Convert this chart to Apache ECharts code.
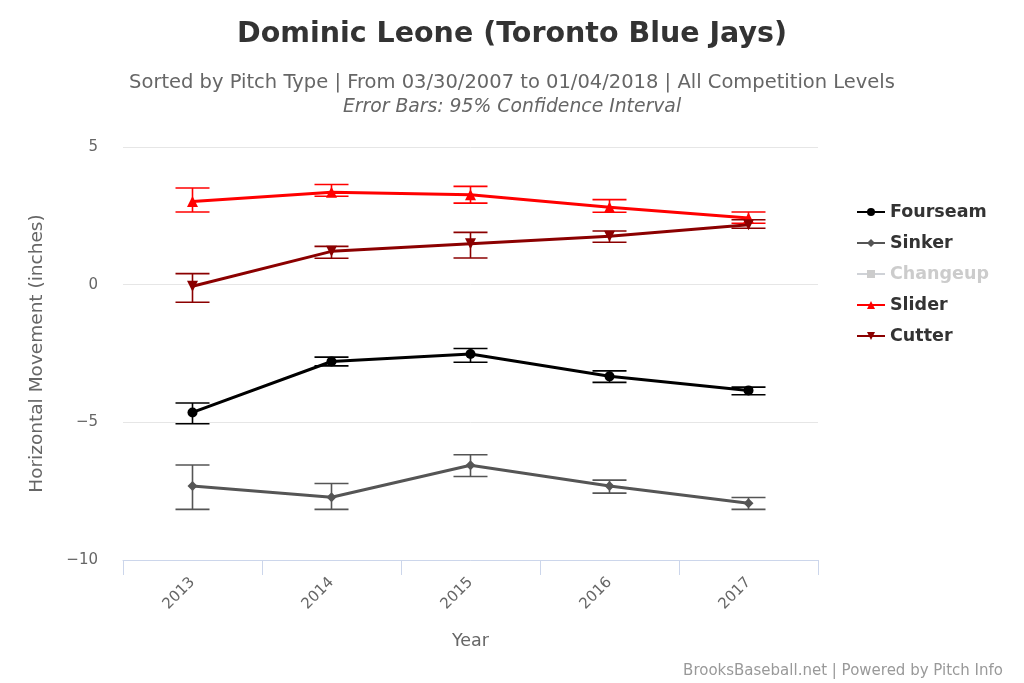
<!DOCTYPE html>
<html><head><meta charset="utf-8">
<script src="https://cdn.jsdelivr.net/npm/echarts@6/dist/echarts.min.js"></script>
<style>html,body{margin:0;padding:0;background:#fff}#c{width:1024px;height:683px}</style>
</head><body><div id="c"></div>
<script>
var years = ['2013','2014','2015','2016','2017'];
var yTicks = [-10, -5, 0, 5];
var fourseam = [-4.64, -2.79, -2.52, -3.33, -3.84];
var fourseamLow = [-5.05, -2.95, -2.82, -3.55, -4.00];
var fourseamHigh = [-4.30, -2.63, -2.32, -3.13, -3.72];
var sinker = [-7.31, -7.72, -6.56, -7.31, -7.94];
var sinkerLow = [-8.16, -8.16, -6.97, -7.57, -8.16];
var sinkerHigh = [-6.55, -7.22, -6.18, -7.10, -7.73];
var changeup = [];
var slider = [3.02, 3.36, 3.27, 2.81, 2.42];
var sliderLow = [2.64, 3.21, 2.96, 2.63, 2.23];
var sliderHigh = [3.51, 3.64, 3.57, 3.09, 2.64];
var cutter = [-0.06, 1.21, 1.49, 1.76, 2.18];
var cutterLow = [-0.64, 0.96, 0.97, 1.54, 2.05];
var cutterHigh = [0.40, 1.39, 1.90, 1.95, 2.36];

var FONT = 'DejaVu Sans';
var chart = echarts.init(document.getElementById('c'));

function errData(lo, hi){ return lo.map(function(v,i){ return [i, v, hi[i]]; }); }
function errSeries(name, lo, hi, color){
  return {
    type: 'custom', name: name + ' CI', silent: true, z: 1,
    data: errData(lo, hi),
    renderItem: function(params, api){
      var x = api.value(0);
      var a = api.coord([x, api.value(1)]);
      var b = api.coord([x, api.value(2)]);
      var hw = 17;
      var st = {stroke: color, lineWidth: 1.6};
      return {type: 'group', children: [
        {type:'line', shape:{x1:a[0], y1:a[1], x2:b[0], y2:b[1]}, style: st},
        {type:'line', shape:{x1:a[0]-hw, y1:a[1], x2:a[0]+hw, y2:a[1]}, style: st},
        {type:'line', shape:{x1:b[0]-hw, y1:b[1], x2:b[0]+hw, y2:b[1]}, style: st}
      ]};
    }
  };
}
function lineSeries(name, data, color, symbol, size, rot){
  return {
    type: 'line', name: name, data: data, z: 3,
    symbol: symbol, symbolSize: size, symbolRotate: rot || 0,
    lineStyle: {color: color, width: 3},
    itemStyle: {color: color},
    emphasis: {disabled: true}
  };
}
var cutterColor = '#8b0000';
chart.setOption({
  animation: false,
  backgroundColor: '#fff',
  title: [
    {text: 'Dominic Leone (Toronto Blue Jays)', left: 'center', top: 15,
     textStyle: {fontFamily: FONT, fontSize: 28.5, fontWeight: 'bold', color: '#333'}},
    {text: 'Sorted by Pitch Type | From 03/30/2007 to 01/04/2018 | All Competition Levels', left: 'center', top: 68,
     textStyle: {fontFamily: FONT, fontSize: 19.5, fontWeight: 'normal', color: '#666'}},
    {text: 'Error Bars: 95% Confidence Interval', left: 'center', top: 93,
     textStyle: {fontFamily: FONT, fontSize: 18.8, fontWeight: 'normal', fontStyle: 'italic', color: '#666'}},
    {text: 'BrooksBaseball.net | Powered by Pitch Info', right: 16, top: 659,
     textStyle: {fontFamily: FONT, fontSize: 15, fontWeight: 'normal', color: '#999'}}
  ],
  legend: {
    orient: 'vertical', left: 851, top: 198, itemGap: 13, itemWidth: 28, itemHeight: 10,
    data: ['Fourseam','Sinker','Changeup','Slider','Cutter'],
    selected: {'Changeup': false},
    inactiveColor: '#ccc',
    textStyle: {fontFamily: FONT, fontSize: 17.5, fontWeight: 'bold', color: '#333'}
  },
  grid: {left: 123, right: 206, top: 147, bottom: 123},
  xAxis: {
    type: 'category', data: years, boundaryGap: true,
    name: 'Year', nameLocation: 'middle', nameGap: 72,
    nameTextStyle: {fontFamily: FONT, fontSize: 17.5, color: '#666'},
    axisLine: {onZero: false, lineStyle: {color: '#ccd6eb', width: 1}},
    axisTick: {show: true, length: 15, lineStyle: {color: '#ccd6eb'}},
    axisLabel: {rotate: 45, margin: 20, fontFamily: FONT, fontSize: 15, color: '#666'},
    splitLine: {show: false}
  },
  yAxis: {
    type: 'value', min: yTicks[0], max: yTicks[yTicks.length-1], interval: 5,
    name: 'Horizontal Movement (inches)', nameLocation: 'middle', nameGap: 76,
    nameTextStyle: {fontFamily: FONT, fontSize: 18.5, color: '#666'},
    axisLine: {show: false}, axisTick: {show: false},
    axisLabel: {margin: 25, fontFamily: FONT, fontSize: 15, color: '#666',
      formatter: function(v){ return v < 0 ? '\u2212' + Math.abs(v) : String(v); }},
    splitLine: {lineStyle: {color: '#e6e6e6', width: 1}}
  },
  series: [
    lineSeries('Fourseam', fourseam, '#000000', 'circle', 10),
    lineSeries('Sinker', sinker, '#555555', 'diamond', 10),
    lineSeries('Changeup', changeup, '#cccccc', 'rect', 9),
    lineSeries('Slider', slider, '#ff0000', 'triangle', 11),
    lineSeries('Cutter', cutter, cutterColor, 'triangle', 11, 180),
    errSeries('Fourseam', fourseamLow, fourseamHigh, '#000000'),
    errSeries('Sinker', sinkerLow, sinkerHigh, '#555555'),
    errSeries('Slider', sliderLow, sliderHigh, '#ff0000'),
    errSeries('Cutter', cutterLow, cutterHigh, cutterColor)
  ]
});
</script></body></html>
